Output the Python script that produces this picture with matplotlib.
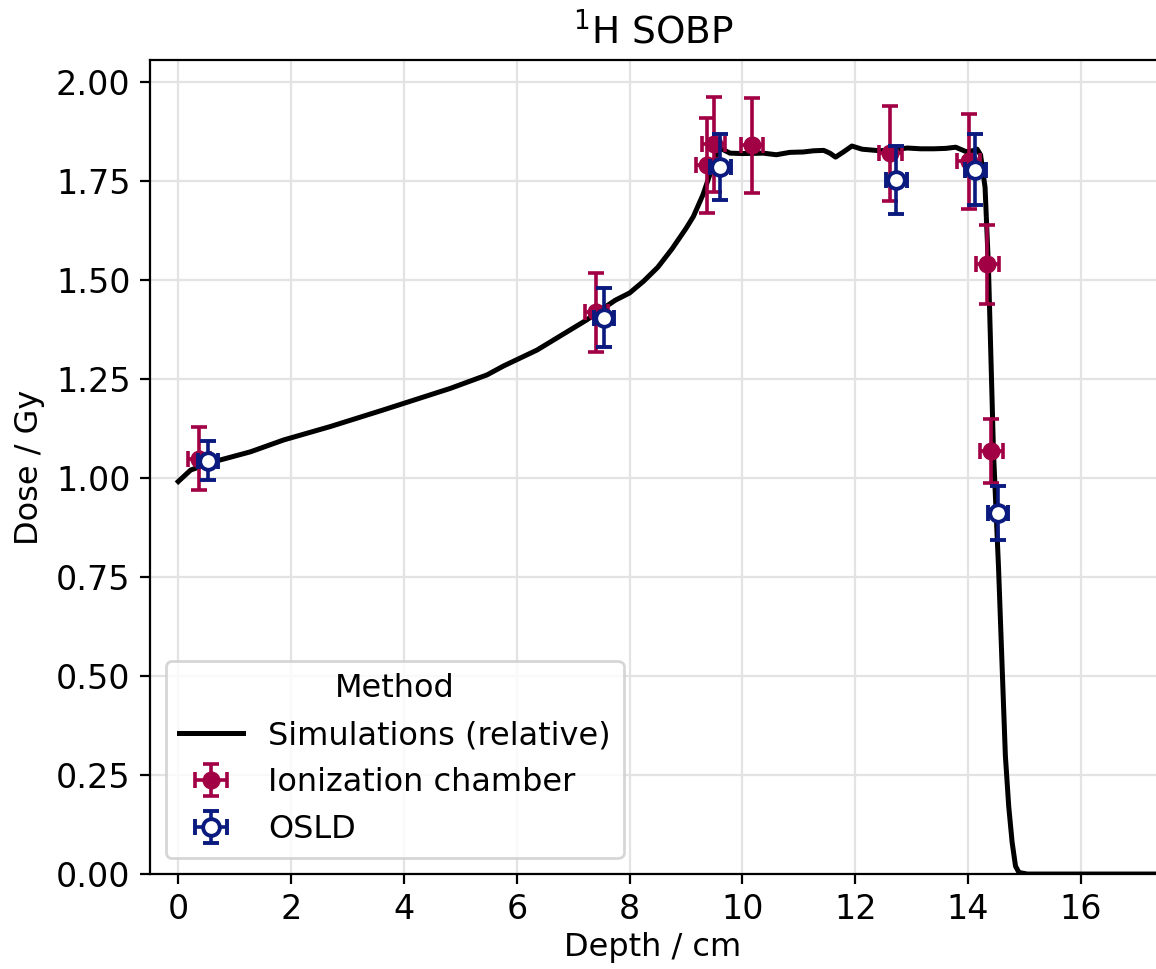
import matplotlib
matplotlib.use("Agg")
import matplotlib.pyplot as plt
import numpy as np

# Simulated depth-dose curve (relative)
sim_depth = [0.0, 0.22, 0.63, 1.28, 1.87, 2.70, 3.64, 4.23, 4.82, 5.47, 5.77,
             6.36, 6.95, 7.24, 7.54, 7.75, 8.0, 8.25, 8.5, 8.75, 9.0, 9.13,
             9.3, 9.43, 9.52, 9.6, 9.67, 9.78, 10.0, 10.37, 10.6, 10.84,
             11.08, 11.26, 11.44, 11.55, 11.65, 11.79, 11.94, 12.12, 12.44,
             12.7, 12.92, 13.16, 13.39, 13.6, 13.78, 13.96, 14.08, 14.16,
             14.22, 14.30, 14.36, 14.45, 14.54, 14.60, 14.66, 14.72, 14.78,
             14.84, 14.9, 15.05, 16.0, 17.5]
sim_dose = [0.991, 1.020, 1.041, 1.066, 1.096, 1.130, 1.172, 1.199, 1.226,
            1.260, 1.283, 1.323, 1.374, 1.399, 1.429, 1.449, 1.467, 1.497,
            1.532, 1.578, 1.630, 1.660, 1.715, 1.769, 1.810, 1.832, 1.828,
            1.820, 1.819, 1.820, 1.816, 1.822, 1.823, 1.826, 1.827, 1.820,
            1.810, 1.823, 1.838, 1.830, 1.826, 1.829, 1.833, 1.831, 1.831,
            1.832, 1.835, 1.824, 1.826, 1.830, 1.816, 1.734, 1.534, 1.064,
            0.770, 0.534, 0.299, 0.170, 0.080, 0.020, 0.004, 0.0, 0.0, 0.0]

# Ionization chamber measurements
ic_depth = [0.37, 7.41, 9.37, 9.49, 10.17, 12.62, 14.01, 14.34, 14.41]
ic_dose = [1.049, 1.418, 1.790, 1.842, 1.840, 1.820, 1.800, 1.539, 1.068]
ic_yerr = [0.08, 0.10, 0.12, 0.12, 0.12, 0.12, 0.12, 0.10, 0.08]
ic_xerr = [0.2] * len(ic_depth)

# OSLD measurements
osld_depth = [0.53, 7.54, 9.61, 12.73, 14.13, 14.53]
osld_dose = [1.044, 1.405, 1.786, 1.752, 1.778, 0.911]
osld_yerr = [0.05, 0.075, 0.083, 0.085, 0.09, 0.068]
osld_xerr = [0.18] * len(osld_depth)

red = "#a10044"
navy = "#0a1a7e"

fig = plt.figure(figsize=(5.78, 4.845), dpi=200)
ax = fig.add_axes([0.1298, 0.098, 0.8702, 0.840])

ax.plot(sim_depth, sim_dose, color="black", lw=1.8, label="Simulations (relative)", zorder=2)
ax.errorbar(ic_depth, ic_dose, yerr=ic_yerr, xerr=ic_xerr, fmt="o", color=red,
            ms=5.5, capsize=3, elinewidth=1.3, capthick=1.3, label="Ionization chamber", zorder=3)
ax.errorbar(osld_depth, osld_dose, yerr=osld_yerr, xerr=osld_xerr, fmt="o", color=navy,
            mfc="white", mec=navy, mew=1.4, ms=6, capsize=3, elinewidth=1.3,
            capthick=1.3, label="OSLD", zorder=4)

ax.set_xlim(-0.5, 17.33)
ax.set_ylim(0, 2.055)
ax.set_xticks(np.arange(0, 17, 2))
ax.set_yticks(np.arange(0, 2.01, 0.25))
ax.yaxis.set_major_formatter(matplotlib.ticker.FormatStrFormatter("%.2f"))
ax.tick_params(labelsize=12)
ax.grid(True, color="#e3e3e3", lw=0.8)
ax.set_axisbelow(True)
ax.spines["right"].set_visible(False)

ax.set_xlabel("Depth / cm", fontsize=11.5, labelpad=2)
ax.set_ylabel("Dose / Gy", fontsize=11.5)
ax.set_title("$^1$H SOBP", fontsize=13.5)

ax.legend(loc="lower left", title="Method", fontsize=11.5, title_fontsize=11.5)

fig.savefig("out.png", dpi=200)
